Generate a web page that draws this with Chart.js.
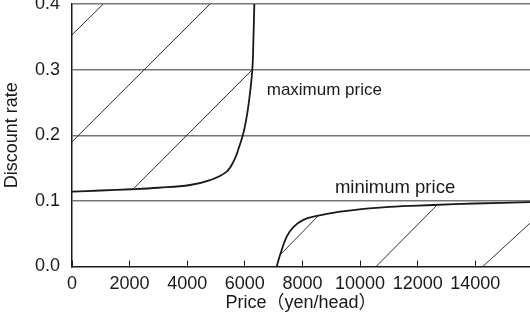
<!DOCTYPE html>
<html>
<head>
<meta charset="utf-8">
<script src="https://cdn.jsdelivr.net/npm/chart.js@4.4.0/dist/chart.umd.min.js"></script>
<style>
  html, body { margin: 0; padding: 0; background: #fff; }
  canvas { display: block; }
</style>
</head>
<body>
<canvas id="c" width="530" height="327"></canvas>
<script>
// Axis ticks
const xTicks = [0, 2000, 4000, 6000, 8000, 10000, 12000, 14000];
const yTicks = [0.0, 0.1, 0.2, 0.3, 0.4];

// Maximum price curve (price, discount rate)
const maxPriceX = [0, 1000, 2070, 3000, 4097, 4792, 5370, 5640, 5800, 5930, 6040, 6140, 6260, 6300, 6330];
const maxPriceY = [0.114, 0.1158, 0.1177, 0.120, 0.1242, 0.1315, 0.1445, 0.163, 0.182, 0.200, 0.222, 0.250, 0.300, 0.350, 0.400];

// Minimum price curve (price, discount rate)
const minPriceX = [7107, 7222, 7454, 7685, 8032, 8553, 9305, 9976, 11000, 12545, 14000, 15900];
const minPriceY = [0.000, 0.0175, 0.0454, 0.060, 0.071, 0.0774, 0.0835, 0.0872, 0.091, 0.0937, 0.096, 0.098];

// Hatching segments: [x1, y1, x2, y2]
const hatchUpper = [
  [0, 0.353, 1087, 0.400],
  [0, 0.190, 4792, 0.400],
  [2118, 0.1178, 6260, 0.300]
];
const hatchLower = [
  [7222, 0.0175, 8553, 0.0774],
  [10556, 0.000, 12660, 0.093],
  [14260, 0.000, 15900, 0.066]
];

// Curve labels: [text, x, y, align, font size]
const curveLabels = [
  ['maximum price', 6760, 0.2614, 'left', 17],
  ['minimum price', 11215, 0.1114, 'center', 18.5]
];

const FONT = "'Liberation Sans', Arial, 'Noto Sans CJK JP', sans-serif";
const INK = '#1a1a1a';

const toPoints = (xs, ys) => xs.map((x, i) => ({ x: x, y: ys[i] }));

const datasets = [];
[...hatchUpper, ...hatchLower].forEach(s => {
  datasets.push({
    data: [{ x: s[0], y: s[1] }, { x: s[2], y: s[3] }],
    showLine: true,
    borderColor: INK,
    borderWidth: 0.9,
    pointRadius: 0,
    tension: 0
  });
});
[[maxPriceX, maxPriceY], [minPriceX, minPriceY]].forEach(c => {
  datasets.push({
    data: toPoints(c[0], c[1]),
    showLine: true,
    borderColor: INK,
    borderWidth: 1.8,
    pointRadius: 0,
    tension: 0.4
  });
});

const labelPlugin = {
  id: 'curveLabels',
  afterDatasetsDraw(chart) {
    const ctx = chart.ctx;
    const xs = chart.scales.x, ys = chart.scales.y;
    ctx.save();
    ctx.fillStyle = INK;
    ctx.textBaseline = 'alphabetic';
    curveLabels.forEach(l => {
      ctx.font = l[4] + 'px ' + FONT;
      ctx.textAlign = l[3];
      ctx.fillText(l[0], xs.getPixelForValue(l[1]), ys.getPixelForValue(l[2]));
    });
    ctx.restore();
  }
};

new Chart(document.getElementById('c'), {
  type: 'scatter',
  data: { datasets: datasets },
  plugins: [labelPlugin],
  options: {
    responsive: false,
    animation: false,
    devicePixelRatio: 1,
    layout: { padding: { top: 4, right: 0, left: 0, bottom: 0 } },
    plugins: { legend: { display: false }, tooltip: { enabled: false } },
    scales: {
      x: {
        type: 'linear',
        min: 0,
        max: 15900,
        afterBuildTicks: s => { s.ticks = xTicks.map(v => ({ value: v })); },
        afterFit: s => { s.height = 60.5; s.paddingLeft = 0; s.paddingRight = 0; },
        grid: { drawOnChartArea: false, drawTicks: true, tickLength: -6, color: INK, lineWidth: 1 },
        border: { color: INK, width: 1.5 },
        ticks: { padding: 13, color: INK, font: { size: 18, family: FONT }, maxRotation: 0, autoSkip: false, callback: v => String(v) },
        title: { display: true, text: 'Price（yen/head）', color: INK, font: { size: 18, family: FONT }, padding: { top: 0, bottom: 13 } }
      },
      y: {
        type: 'linear',
        min: 0,
        max: 0.4,
        afterBuildTicks: s => { s.ticks = yTicks.map(v => ({ value: v })); },
        afterFit: s => { s.width = 72; s.paddingTop = 0; s.paddingBottom = 0; },
        grid: {
          drawTicks: false,
          color: c => (c.tick && c.tick.value === 0) ? 'rgba(0,0,0,0)' : '#777777',
          lineWidth: 1.5
        },
        border: { color: INK, width: 1.5 },
        ticks: { padding: 12, color: INK, font: { size: 18, family: FONT }, callback: v => v.toFixed(1) },
        title: { display: true, text: 'Discount rate', color: INK, font: { size: 18, family: FONT }, padding: { top: 1, bottom: 0 } }
      }
    }
  }
});
</script>
</body>
</html>
